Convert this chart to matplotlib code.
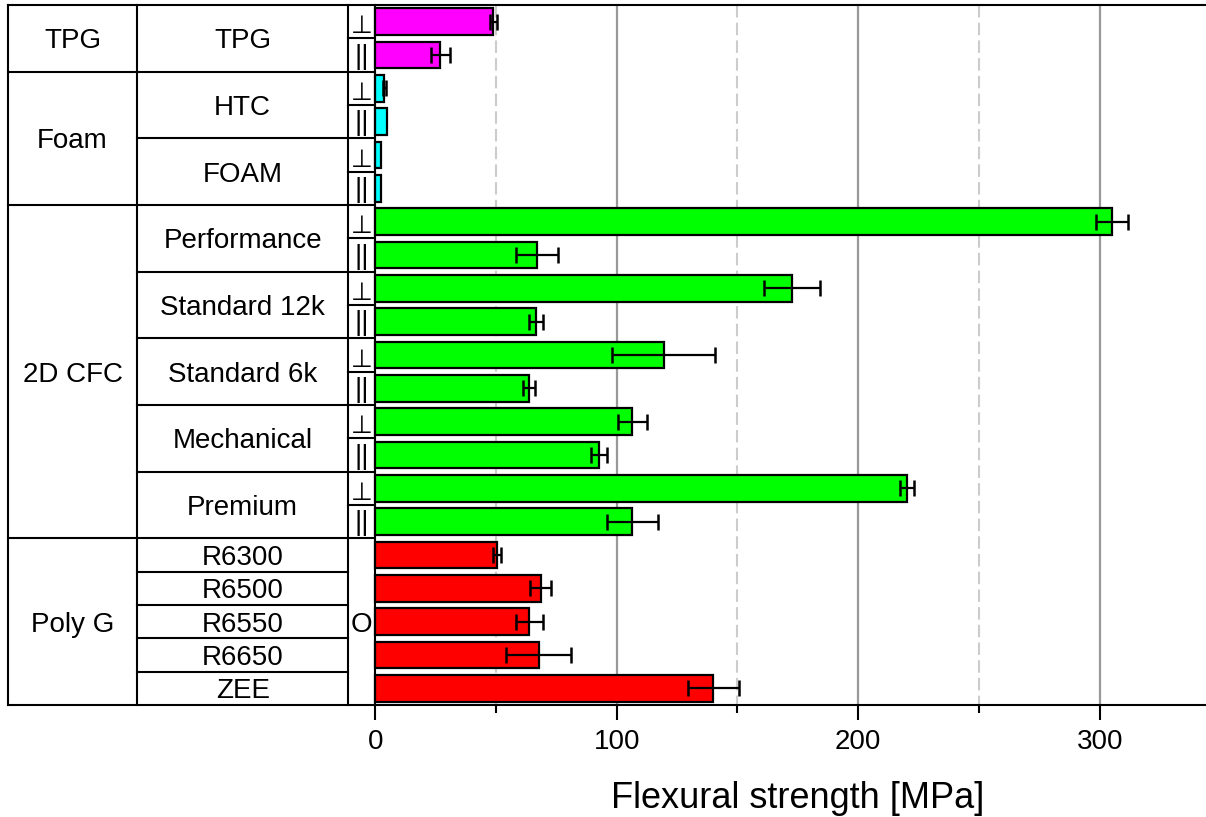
import matplotlib
matplotlib.use("Agg")
import matplotlib.pyplot as plt
import numpy as np

# ---- data -------------------------------------------------------------
groups = ["TPG", "Foam", "2D CFC", "Poly G"]
group_sizes = [2, 4, 10, 5]
group_colors = ["#ff00ff", "#00ffff", "#00ff00", "#ff0000"]

materials = ["TPG", "HTC", "FOAM", "Performance", "Standard 12k",
             "Standard 6k", "Mechanical", "Premium",
             "R6300", "R6500", "R6550", "R6650", "ZEE"]
material_sizes = [2, 2, 2, 2, 2, 2, 2, 2, 1, 1, 1, 1, 1]

orientations = ["⊥", "||"] * 8 + ["O"] * 5

strength = [49.0, 27.0,
            3.8, 4.8,
            2.5, 2.6,
            305.0, 67.0,
            172.5, 66.7,
            119.4, 63.6,
            106.5, 92.7,
            220.3, 106.5,
            50.5, 68.5, 63.9, 67.8, 140.0]
strength_err = [1.5, 4.0,
                0.6, 0.0,
                0.0, 0.0,
                6.5, 8.6,
                11.5, 3.0,
                21.5, 2.5,
                5.9, 3.3,
                3.0, 10.7,
                1.5, 4.5, 5.6, 13.5, 10.5]

x_major = [0, 100, 200, 300]
x_minor = [50, 150, 250]

# ---- figure -----------------------------------------------------------
W, H = 1206, 817
fig = plt.figure(figsize=(W / 100, H / 100), dpi=100)
ax = fig.add_axes([8 / W, 1 - 705 / H, (W - 8) / W, 700 / H])

x_left, x_right = -152.0, 344.0
col_a = -98.5     # between group and material columns
col_b = -11.2     # between material and orientation columns
n_rows = len(strength)
ax.set_xlim(x_left, x_right)
ax.set_ylim(n_rows, 0)

lw = 1.5
font = ["Liberation Sans", "DejaVu Sans"]
dy = 0.09   # small downward nudge so labels sit in the middle of the cells

# background grid in the plotting region
for v in x_minor:
    ax.plot([v, v], [0, n_rows], color="#cccccc", lw=1.5,
            linestyle=(0, (6, 2.5)), zorder=0)
for v in x_major[1:]:
    ax.plot([v, v], [0, n_rows], color="#999999", lw=1.6, zorder=0)

# bars with error bars
row_colors = []
for g, n in zip(group_colors, group_sizes):
    row_colors += [g] * n
y = np.arange(n_rows) + 0.5
ax.barh(y, strength, height=0.8, left=0, color=row_colors,
        edgecolor="black", linewidth=1.6, zorder=2)
err = np.array(strength_err)
mask = err > 0
ax.errorbar(np.array(strength)[mask], y[mask], xerr=err[mask], fmt="none",
            ecolor="black", elinewidth=1.6, capsize=5.5, capthick=1.8,
            zorder=3)

# ---- table on the left ------------------------------------------------
def hline(yy, x0, x1):
    ax.plot([x0, x1], [yy, yy], color="black", lw=lw, clip_on=False,
            solid_capstyle="projecting", zorder=4)

def vline(xx, y0, y1):
    ax.plot([xx, xx], [y0, y1], color="black", lw=lw, clip_on=False,
            solid_capstyle="projecting", zorder=4)

vline(col_a, 0, n_rows)
vline(col_b, 0, n_rows)
vline(0, 0, n_rows)

# group labels and borders
start = 0
for name, n in zip(groups, group_sizes):
    ax.text((x_left + col_a) / 2, start + n / 2 + dy, name, ha="center",
            va="center", fontsize=20, family=font)
    if start > 0:
        hline(start, x_left, 0)
    start += n

# material labels and borders
start = 0
group_edges = np.cumsum([0] + group_sizes)
for name, n in zip(materials, material_sizes):
    ax.text((col_a + col_b) / 2, start + n / 2 + dy, name, ha="center",
            va="center", fontsize=20, family=font)
    if start not in group_edges:
        x1 = 0 if n == 2 else col_b
        hline(start, col_a, x1)
    start += n

# orientation symbols
poly_start = group_edges[-2]
for i, o in enumerate(orientations[:poly_start]):
    if o == "⊥":
        ax.text(col_b / 2, i + 0.5 + 0.14, o, ha="center", va="center",
                fontsize=18, family=["DejaVu Sans"])
    else:
        ax.text(col_b / 2, i + 0.5 + 0.05, o, ha="center", va="center",
                fontsize=20, family=font)
        hline(i, col_b, 0)
ax.text(col_b / 2, (poly_start + n_rows) / 2 + dy, orientations[-1],
        ha="center", va="center", fontsize=20, family=font)

# ---- axes styling ------------------------------------------------------
ax.spines["right"].set_visible(False)
for side in ["left", "top", "bottom"]:
    ax.spines[side].set_linewidth(lw)

ax.set_yticks([])
ax.set_xticks(x_major)
ax.set_xticks(x_minor, minor=True)
ax.set_xticklabels([str(v) for v in x_major],
                   family=["Liberation Sans Narrow", "Liberation Sans"],
                   fontsize=20)
ax.tick_params(axis="x", which="major", length=10.5, width=1.5, pad=7,
               direction="out")
ax.tick_params(axis="x", which="minor", length=6, width=1.5,
               direction="out")

fig.text(798 / W, 1 - 798 / H, "Flexural strength [MPa]", ha="center",
         va="center", fontsize=26, family=font)

fig.savefig("out.png", dpi=100)
